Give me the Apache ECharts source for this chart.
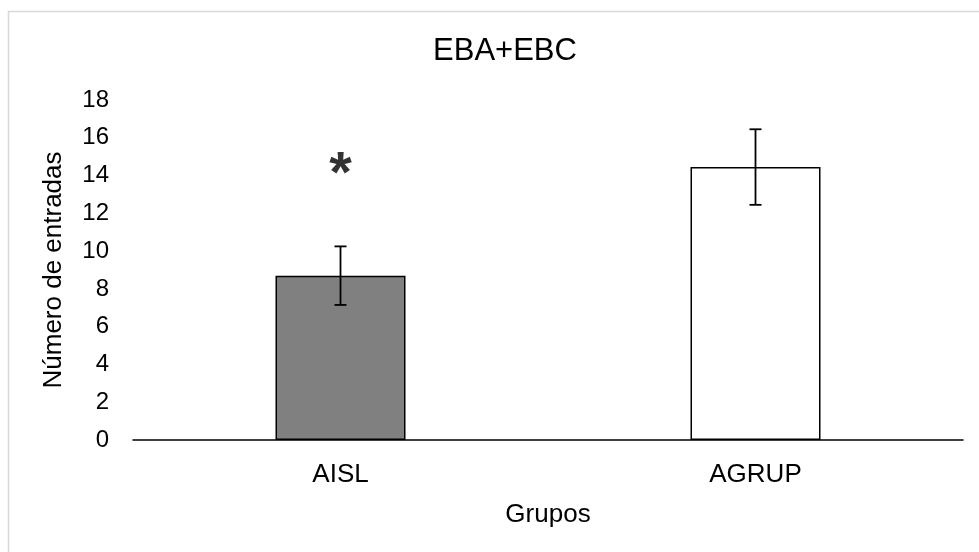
<!DOCTYPE html>
<html>
<head>
<meta charset="utf-8">
<script src="https://cdn.jsdelivr.net/npm/echarts@6/dist/echarts.min.js"></script>
<style>
html,body{margin:0;padding:0;background:#fff;}
#chart{width:979px;height:552px;}
</style>
</head>
<body>
<div id="chart"></div>
<script>
const categories = ['AISL', 'AGRUP'];
const means = [8.7, 14.45];
const errors = [1.55, 2.0];
const barColors = ['#808080', '#ffffff'];
const yTicks = [0, 2, 4, 6, 8, 10, 12, 14, 16, 18];
const starMarks = [[0, 14.0]];

const chart = echarts.init(document.getElementById('chart'));
const FONT = 'Liberation Sans, Arial, sans-serif';

chart.setOption({
  backgroundColor: '#fff',
  animation: false,
  title: {
    text: 'EBA+EBC',
    left: 500, top: 31, textAlign: 'center',
    textStyle: { fontFamily: FONT, fontSize: 31, fontWeight: 'normal', color: '#000' }
  },
  graphic: [{
    type: 'rect', shape: { x: 8.5, y: 11.5, width: 1000, height: 600 },
    style: { fill: 'none', stroke: '#d9d9d9', lineWidth: 1.5 }, silent: true, z: -1
  }],
  grid: { left: 133, right: 16, top: 100, bottom: 112 },
  xAxis: {
    type: 'category',
    data: categories,
    name: 'Grupos',
    nameLocation: 'middle',
    nameGap: 62,
    nameTextStyle: { fontFamily: FONT, fontSize: 26, color: '#000' },
    axisLine: { lineStyle: { color: '#000', width: 1.5 } },
    axisTick: { show: false },
    axisLabel: { fontFamily: FONT, fontSize: 26, color: '#000', margin: 22 }
  },
  yAxis: {
    type: 'value',
    min: yTicks[0], max: yTicks[yTicks.length - 1], interval: 2,
    name: 'Número de entradas',
    nameLocation: 'middle',
    nameGap: 66,
    nameTextStyle: { fontFamily: FONT, fontSize: 26, color: '#000' },
    axisLine: { show: false },
    axisTick: { show: false },
    splitLine: { show: false },
    axisLabel: { fontFamily: FONT, fontSize: 24, color: '#000', margin: 24 }
  },
  series: [
    {
      type: 'bar',
      barWidth: 130,
      data: means.map((v, i) => ({
        value: v,
        itemStyle: { color: barColors[i], borderColor: '#000', borderWidth: 1.5 }
      })),
      z: 2
    },
    {
      type: 'custom',
      z: 5,
      data: means.map((v, i) => [i, v - errors[i], v + errors[i]]),
      renderItem: function (params, api) {
        const x = api.coord([api.value(0), 0])[0];
        const lo = api.coord([api.value(0), api.value(1)])[1];
        const hi = api.coord([api.value(0), api.value(2)])[1];
        const w = 6;
        const st = { stroke: '#000', lineWidth: 1.8 };
        return {
          type: 'group',
          children: [
            { type: 'line', shape: { x1: x, y1: lo, x2: x, y2: hi }, style: st },
            { type: 'line', shape: { x1: x - w, y1: lo, x2: x + w, y2: lo }, style: st },
            { type: 'line', shape: { x1: x - w, y1: hi, x2: x + w, y2: hi }, style: st }
          ]
        };
      }
    },
    {
      type: 'scatter',
      symbolSize: 0,
      z: 6,
      data: starMarks,
      label: {
        show: true, position: 'inside', formatter: '*',
        fontFamily: FONT, fontSize: 58, fontWeight: 'bold', color: '#000'
      }
    }
  ]
});
</script>
</body>
</html>
